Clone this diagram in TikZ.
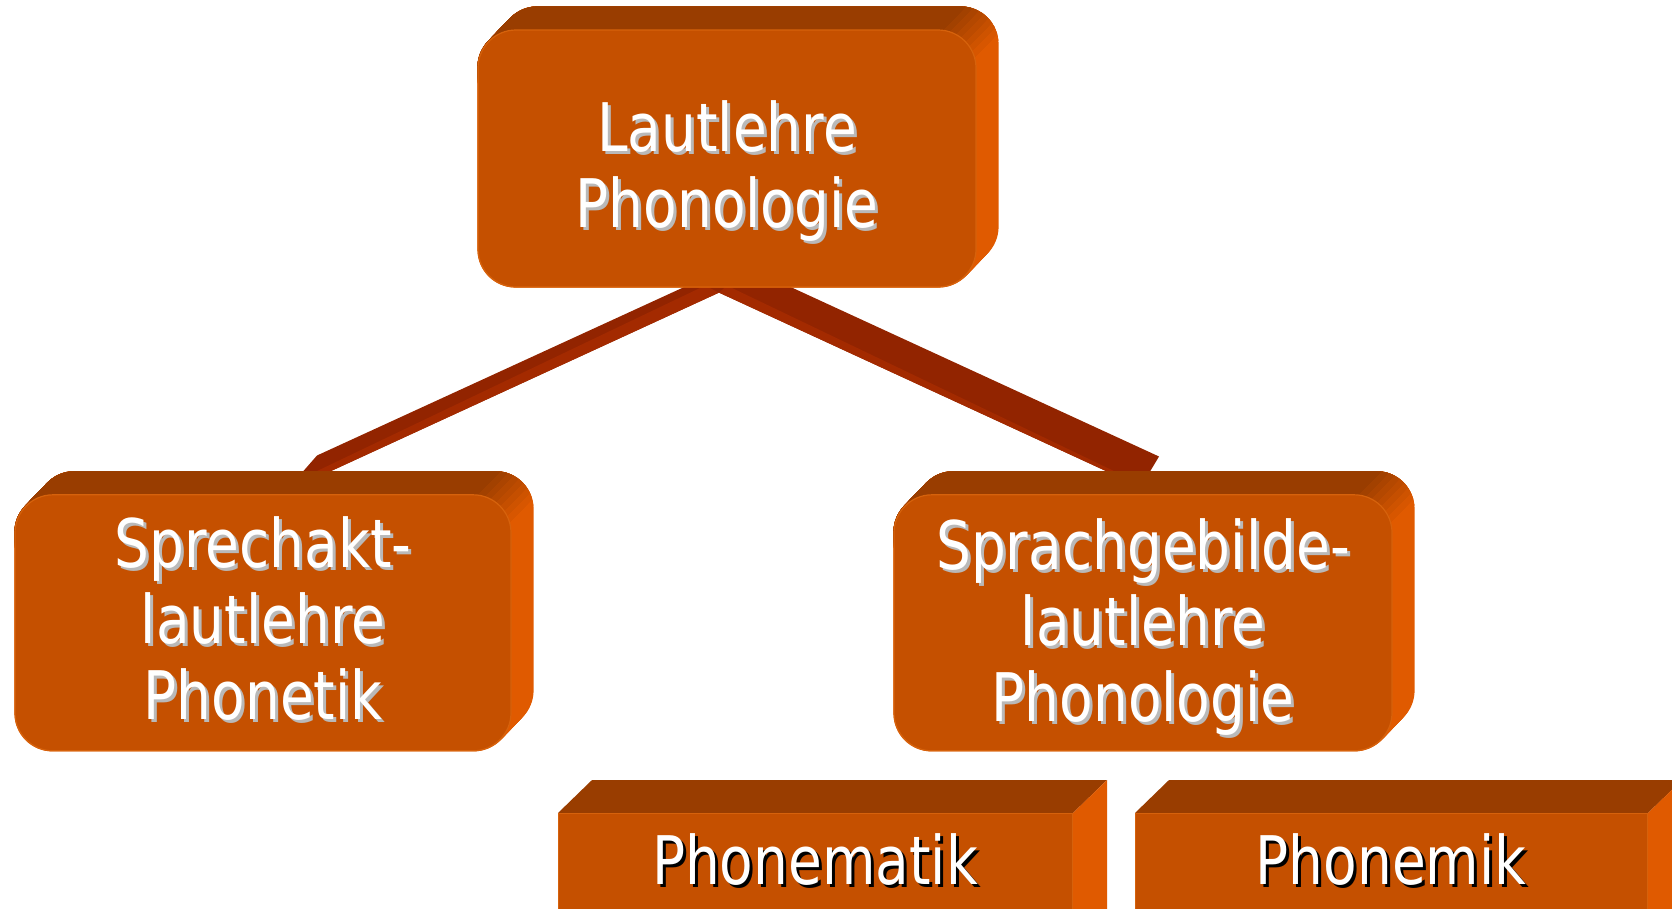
\documentclass[tikz,border=0pt]{standalone}
\usepackage{fontspec}
\setmainfont{DejaVu Sans}[FakeStretch=0.82]
\usetikzlibrary{calc}
\pgfdeclarelayer{conn}
\pgfdeclarelayer{ext}
\pgfsetlayers{conn,ext,main}

\definecolor{frontc}{RGB}{197,80,0}
\definecolor{topc}{RGB}{153,61,0}
\definecolor{sidec}{RGB}{224,90,0}
\definecolor{rimc}{RGB}{214,98,12}
\definecolor{barc}{RGB}{146,36,0}
\definecolor{barlc}{RGB}{163,42,0}
\definecolor{shgray}{RGB}{185,185,185}

\tikzset{
  rbox/.style={rounded corners=38pt, fill=frontc, draw=rimc, line width=1.2pt, inner sep=0pt},
  sbox/.style={fill=frontc, draw=rimc, line width=1pt, inner sep=0pt, anchor=north west},
  txtbase/.style={font=\fontsize{67}{76}\selectfont, align=center, inner sep=0pt},
  txt/.style={txtbase, text=white},
  txtsh/.style={txtbase, text=shgray},
  txtshb/.style={txtbase, text=black},
  bar/.style={fill=barc},
  barl/.style={fill=barlc}
}

% extrusion of a rounded box node, with a soft top/side transition at the corner
\newcommand\roundext[1]{%
  \begin{pgfonlayer}{ext}
    \foreach \i in {0,...,23}
      \fill[sidec, rounded corners=38pt] ($(#1.north west)+(\i*22/23,-\i)$) rectangle ($(#1.south east)+(\i*22/23,-\i)$);
    \foreach \j in {0,...,8}{
      \pgfmathsetmacro{\sh}{(-24+6*\j)*0.7071}
      \pgfmathsetmacro{\pc}{\j*100/8}
      \coordinate (#1P) at ($(#1.north east)+(-11-\sh,11-\sh)$);
      \begin{scope}
        \clip ($(#1.north west)+(-100,-200)$) -- ($(#1P)+(200,-200)$) -- ($(#1P)+(-40,40)$) -- ($(#1.north west)+(-100,51)$) -- cycle;
        \foreach \i in {0,...,23}
          \fill[topc!\pc!sidec, rounded corners=38pt] ($(#1.north west)+(\i*22/23,-\i)$) rectangle ($(#1.south east)+(\i*22/23,-\i)$);
      \end{scope}
    }
  \end{pgfonlayer}}

% extrusion of a sharp box node
\newcommand\sharpext[1]{%
  \begin{pgfonlayer}{ext}
    \fill[topc] (#1.north west) -- ($(#1.north west)+(34,-33)$) -- ($(#1.north east)+(34,-33)$) -- (#1.north east) -- cycle;
    \fill[sidec] (#1.north east) -- ($(#1.north east)+(34,-33)$) -- ($(#1.south east)+(34,-33)$) -- (#1.south east) -- cycle;
  \end{pgfonlayer}}

\begin{document}
\begin{tikzpicture}[x=1pt,y=-1pt]
\useasboundingbox (0,0) rectangle (1672,908);

% boxes (front faces)
\node[rbox, minimum width=498pt, minimum height=257pt] (top) at (727,158.5) {};
\node[rbox, minimum width=496pt, minimum height=256pt] (lbox) at (263,622.8) {};
\node[rbox, minimum width=498pt, minimum height=256pt] (rbox) at (1143,622.8) {};
\node[sbox, minimum width=514pt, minimum height=150pt] (pm) at (558,813) {};
\node[sbox, minimum width=512pt, minimum height=150pt] (pk) at (1135,813) {};

\roundext{top}
\roundext{lbox}
\roundext{rbox}
\sharpext{pm}
\sharpext{pk}

% connectors
\begin{pgfonlayer}{conn}
  \coordinate (apex) at ($(top.south)+(-8,5)$);
  \fill[bar] ($(top.south)+(-7,-17)$) -- ($(lbox.north)+(54,-38.7)$) -- ($(lbox.north)+(40,-22.7)$) -- ($(lbox.north)+(67,-22.7)$) -- (apex) -- ($(top.south)+(13,-17)$) -- cycle;
  \fill[barl] (apex) -- ($(lbox.north)+(67,-22.7)$) -- ($(lbox.north)+(53,-22.7)$) -- ($(top.south)+(-22,-2)$) -- cycle;
  \fill[bar] (apex) -- ($(rbox.north)+(-36,-22.7)$) -- ($(rbox.north)+(7,-22.7)$) -- ($(rbox.north)+(16,-37.7)$) -- ($(top.south)+(28,-17)$) -- ($(top.south)+(-22,-17)$) -- cycle;
  \fill[barl] (apex) -- ($(rbox.north)+(-36,-22.7)$) -- ($(rbox.north)+(-28,-22.7)$) -- ($(top.south)+(0,-2)$) -- cycle;
\end{pgfonlayer}

% texts
\node[txtsh] (topts) at (730,174) {Lautlehre\\Phonologie};
\node[txt] (topt) at (727,171) {Lautlehre\\Phonologie};
\node[txtsh] (lts) at (266,622) {Sprechakt-\\lautlehre\\Phonetik};
\node[txt] (lt) at (263,619) {Sprechakt-\\lautlehre\\Phonetik};
\node[txtsh] (rts) at (1146,629.6) {Sprachgebilde-\\lautlehre\\Phonologie};
\node[txt] (rt) at (1143,626.6) {Sprachgebilde-\\lautlehre\\Phonologie};
\node[txtshb] (pmts) at (818,862.5) {Phonematik};
\node[txt] (pmt) at (815,859.5) {Phonematik};
\node[txtshb] (pkts) at (1394,862.5) {Phonemik};
\node[txt] (pkt) at (1391,859.5) {Phonemik};
\end{tikzpicture}
\end{document}
